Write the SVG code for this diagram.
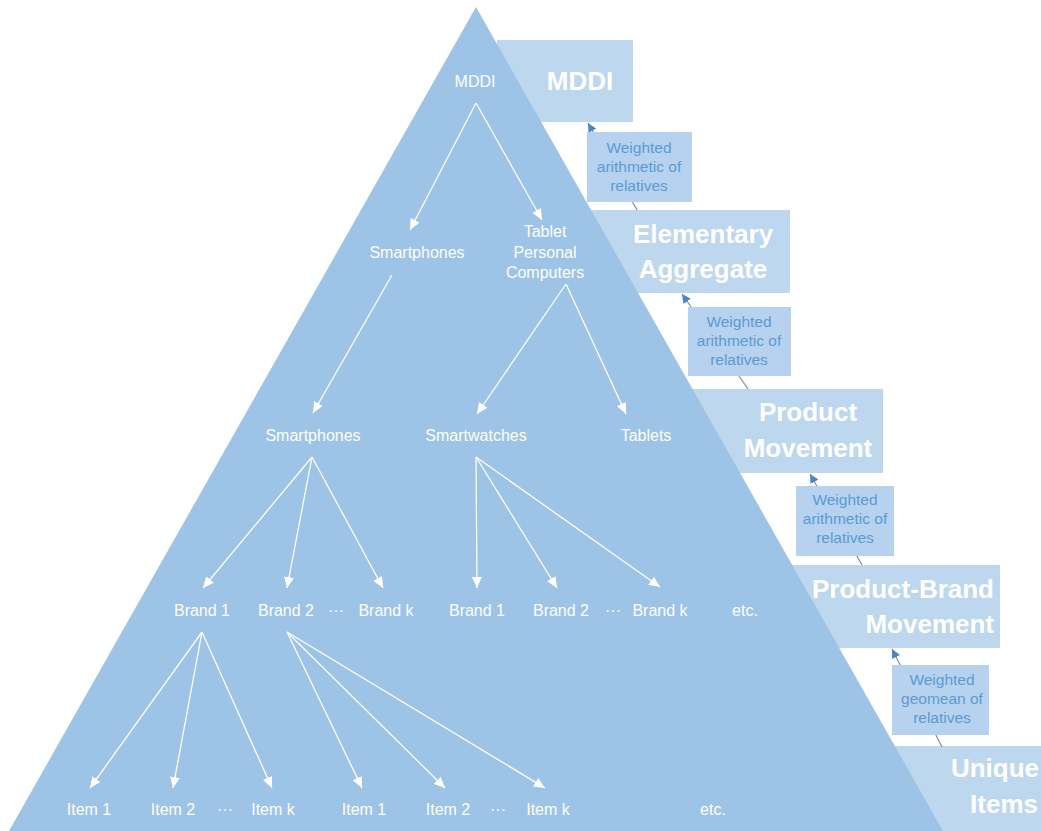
<svg xmlns="http://www.w3.org/2000/svg" width="1041" height="831" viewBox="0 0 1041 831">
<defs>
<style>
.big{fill:#BDD7EE}
.bt{font-family:"Liberation Sans",Arial,sans-serif;font-weight:bold;font-size:26px;fill:#FFFFFF}
.wb{fill:#B7D2EE}
.wt{font-family:"Liberation Sans",Arial,sans-serif;font-size:15.5px;fill:#5B9BD5;text-anchor:middle}
.t{font-family:"Liberation Sans",Arial,sans-serif;font-size:16px;fill:#FFFFFF;text-anchor:middle}
.ln{stroke:#FFFFFF;stroke-width:1.3;fill:none;marker-end:url(#wa)}
.cn{stroke:#7E8E9E;stroke-width:1.2;fill:none;marker-end:url(#ba)}
</style>
<marker id="wa" markerUnits="userSpaceOnUse" markerWidth="12" markerHeight="10" refX="11" refY="5" orient="auto">
<path d="M0,0 L11,5 L0,10 z" fill="#FFFFFF"/>
</marker>
<marker id="ba" markerUnits="userSpaceOnUse" markerWidth="10" markerHeight="9" refX="9" refY="4.5" orient="auto">
<path d="M0,0 L9,4.5 L0,9 z" fill="#4A86C5"/>
</marker>
</defs>
<rect width="1041" height="831" fill="#FFFFFF"/>

<!-- level boxes -->
<g id="box-mddi"><rect class="big" x="497" y="40" width="136" height="82"/><text class="bt" x="580" y="90" text-anchor="middle">MDDI</text></g>
<g id="box-elementary"><rect class="big" x="590" y="210" width="200" height="83"/><text class="bt" x="703" y="243" text-anchor="middle">Elementary</text><text class="bt" x="703" y="278" text-anchor="middle">Aggregate</text></g>
<g id="box-product"><rect class="big" x="688" y="389" width="195" height="84"/><text class="bt" x="808" y="421" text-anchor="middle">Product</text><text class="bt" x="808" y="457" text-anchor="middle">Movement</text></g>
<g id="box-productbrand"><rect class="big" x="789" y="565" width="211" height="83"/><text class="bt" x="994" y="598" text-anchor="end">Product-Brand</text><text class="bt" x="994" y="633" text-anchor="end">Movement</text></g>
<g id="box-unique"><rect class="big" x="890" y="746" width="160" height="85"/><text class="bt" x="1039" y="777" text-anchor="end">Unique</text><text class="bt" x="1038" y="813" text-anchor="end">Items</text></g>

<!-- connectors between levels -->
<g id="level-connectors">
<line class="cn" x1="637" y1="210" x2="588" y2="123"/>
<line class="cn" x1="748" y1="389" x2="682" y2="294"/>
<line class="cn" x1="862" y1="565" x2="810" y2="474"/>
<line class="cn" x1="942" y1="747" x2="892" y2="649"/>
</g>

<!-- weighting labels -->
<g id="w1"><rect class="wb" x="587" y="132" width="105" height="70"/><text class="wt" x="639" y="153">Weighted</text><text class="wt" x="639" y="172">arithmetic of</text><text class="wt" x="639" y="191">relatives</text></g>
<g id="w2"><rect class="wb" x="688" y="307" width="103" height="69"/><text class="wt" x="739" y="327">Weighted</text><text class="wt" x="739" y="346">arithmetic of</text><text class="wt" x="739" y="365">relatives</text></g>
<g id="w3"><rect class="wb" x="796" y="486" width="98" height="70"/><text class="wt" x="845" y="505">Weighted</text><text class="wt" x="845" y="524">arithmetic of</text><text class="wt" x="845" y="543">relatives</text></g>
<g id="w4"><rect class="wb" x="892" y="665" width="97" height="70"/><text class="wt" x="942" y="685">Weighted</text><text class="wt" x="942" y="704">geomean of</text><text class="wt" x="942" y="723">relatives</text></g>

<!-- pyramid -->
<g id="pyramid"><polygon points="476,7 9,831 943,831" fill="#9DC3E6"/></g>

<!-- tree connectors -->
<g id="tree-connectors">
<line class="ln" x1="476" y1="103" x2="410" y2="230"/>
<line class="ln" x1="476" y1="103" x2="542" y2="220"/>
<line class="ln" x1="392" y1="275" x2="313" y2="413"/>
<line class="ln" x1="566" y1="284" x2="477" y2="414"/>
<line class="ln" x1="566" y1="284" x2="626" y2="414"/>
<line class="ln" x1="312" y1="457" x2="203" y2="588"/>
<line class="ln" x1="312" y1="457" x2="287" y2="588"/>
<line class="ln" x1="312" y1="457" x2="383" y2="588"/>
<line class="ln" x1="476" y1="457" x2="477" y2="588"/>
<line class="ln" x1="476" y1="457" x2="557" y2="588"/>
<line class="ln" x1="476" y1="457" x2="660" y2="587"/>
<line class="ln" x1="202" y1="632" x2="90" y2="788"/>
<line class="ln" x1="202" y1="632" x2="173" y2="788"/>
<line class="ln" x1="202" y1="632" x2="272" y2="788"/>
<line class="ln" x1="287" y1="632" x2="362" y2="788"/>
<line class="ln" x1="287" y1="632" x2="445" y2="788"/>
<line class="ln" x1="287" y1="632" x2="545" y2="788"/>
</g>

<!-- tree nodes -->
<g id="n-mddi"><text class="t" x="475" y="87">MDDI</text></g>
<g id="n-smartphones1"><text class="t" x="417" y="258">Smartphones</text></g>
<g id="n-tablet-pc"><text class="t" x="545" y="237">Tablet</text><text class="t" x="545" y="258">Personal</text><text class="t" x="545" y="278">Computers</text></g>
<g id="n-smartphones2"><text class="t" x="313" y="441">Smartphones</text></g>
<g id="n-smartwatches"><text class="t" x="476" y="441">Smartwatches</text></g>
<g id="n-tablets"><text class="t" x="646" y="441">Tablets</text></g>
<g id="n-b1a"><text class="t" x="202" y="616">Brand 1</text></g>
<g id="n-b2a"><text class="t" x="286" y="616">Brand 2</text></g>
<g id="n-dots-ba"><text class="t" x="336" y="616">···</text></g>
<g id="n-bka"><text class="t" x="386" y="616">Brand k</text></g>
<g id="n-b1b"><text class="t" x="477" y="616">Brand 1</text></g>
<g id="n-b2b"><text class="t" x="561" y="616">Brand 2</text></g>
<g id="n-dots-bb"><text class="t" x="613" y="616">···</text></g>
<g id="n-bkb"><text class="t" x="660" y="616">Brand k</text></g>
<g id="n-etc1"><text class="t" x="745" y="616">etc.</text></g>
<g id="n-i1a"><text class="t" x="89" y="815">Item 1</text></g>
<g id="n-i2a"><text class="t" x="173" y="815">Item 2</text></g>
<g id="n-dots-ia"><text class="t" x="225" y="815">···</text></g>
<g id="n-ika"><text class="t" x="273" y="815">Item k</text></g>
<g id="n-i1b"><text class="t" x="364" y="815">Item 1</text></g>
<g id="n-i2b"><text class="t" x="448" y="815">Item 2</text></g>
<g id="n-dots-ib"><text class="t" x="498" y="815">···</text></g>
<g id="n-ikb"><text class="t" x="548" y="815">Item k</text></g>
<g id="n-etc2"><text class="t" x="713" y="815">etc.</text></g>
</svg>
